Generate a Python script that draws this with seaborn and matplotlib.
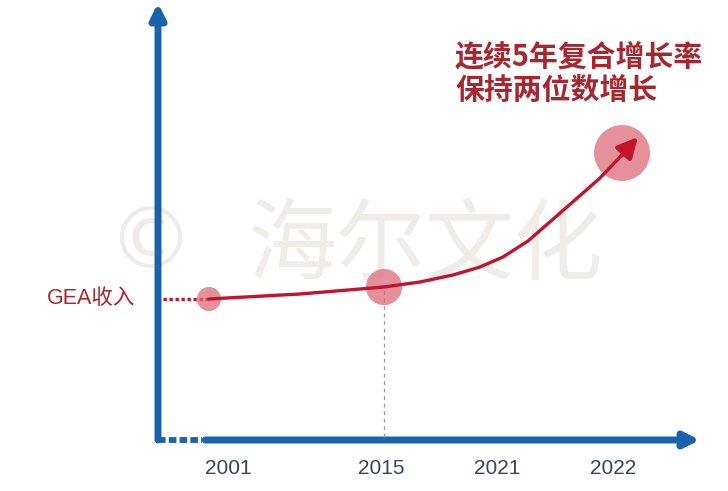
import matplotlib
matplotlib.use("Agg")
import matplotlib.pyplot as plt
import seaborn as sns
import pandas as pd

sns.set_style("white")
plt.rcParams['font.family'] = ['Noto Sans CJK SC', 'DejaVu Sans']
LATIN = ['Liberation Sans', 'Noto Sans CJK SC']

# ---- data (arbitrary revenue index) ----
years = ["2001", "2015", "2021", "2022"]
tick_pos = [0.70, 2.23, 3.39, 4.55]          # tick label positions on time axis
point_years = ["2001", "2015", "2022"]
point_x = [0.51, 2.26, 4.64]
point_val = [1.41, 1.53, 2.87]
point_size = [300, 680, 1620]
curve_x = [0.51, 1.42, 2.26, 2.62, 2.95, 3.22, 3.45, 3.70, 4.09, 4.42, 4.64]
curve_val = [1.41, 1.46, 1.53, 1.58, 1.65, 1.73, 1.83, 1.99, 2.33, 2.62, 2.85]
arrow_tip = (4.80, 3.03)
series_label = "GEA收入"
headline = ["连续5年复合增长率", "保持两位数增长"]

BLUE = "#1b62ad"
RED = "#c4142b"
PINK = "#dc6673"
TEXT_RED = "#a8262e"

W, H = 728, 491
fig = plt.figure(figsize=(W / 100, H / 100), dpi=100)
x0, y0, x1, y1 = 158, 440, 700, 3
ax = fig.add_axes([x0 / W, (H - y0) / H, (x1 - x0) / W, (y0 - y1) / H])
ax.set_xlim(0, (x1 - x0) / 100)
ax.set_ylim(0, (y0 - y1) / 100)
ax.patch.set_alpha(0)
for s in ax.spines.values():
    s.set_visible(False)

# watermark (behind everything)
ax.text(150 / W, 1 - 245 / H, "©", fontsize=62, color="#efece8", ha="center", va="center",
        zorder=0.1, family=['DejaVu Sans'], transform=fig.transFigure)
ax.text(425 / W, 1 - 248 / H, "海尔文化", fontsize=64, color="#f0ede9", ha="center", va="center",
        zorder=0.1, transform=fig.transFigure)

# axes arrows
ax.annotate("", xy=(0, 1), xytext=(0, 0), xycoords="axes fraction",
            arrowprops=dict(arrowstyle="-|>", lw=5, color=BLUE, mutation_scale=22,
                            shrinkA=0, shrinkB=0), annotation_clip=False, zorder=2)
ax.annotate("", xy=(1, 0), xytext=(0.087, 0), xycoords="axes fraction",
            arrowprops=dict(arrowstyle="-|>", lw=5, color=BLUE, mutation_scale=22,
                            shrinkA=0, shrinkB=0), annotation_clip=False, zorder=2)
ax.plot([0, 0.44], [0, 0], color=BLUE, lw=4.2, ls=(0, (1.3, 0.55)), solid_capstyle="butt",
        clip_on=False, zorder=2)

# dotted lead-in and dashed drop line
ax.plot([0.05, curve_x[0]], [point_val[0], point_val[0]], color=RED, lw=2.4,
        ls=(0, (1, 0.8)), clip_on=False, zorder=2)
ax.plot([point_x[1], point_x[1]], [0.03, point_val[1]], color="#9a9a9a", lw=0.9,
        ls=(0, (3, 3)), zorder=2)

# circles
df_pts = pd.DataFrame({"year": point_years, "x": point_x, "v": point_val, "s": point_size})
sns.scatterplot(data=df_pts, x="x", y="v", size="s", sizes=(min(point_size), max(point_size)),
                color=PINK, alpha=0.72, edgecolor="none", legend=False, ax=ax, zorder=3)

# curve
df_c = pd.DataFrame({"x": curve_x, "v": curve_val})
sns.lineplot(data=df_c, x="x", y="v", sort=False, color=RED, lw=2.4, ax=ax, zorder=4)
ax.annotate("", xy=arrow_tip, xytext=(curve_x[-1], curve_val[-1]),
            arrowprops=dict(arrowstyle="-|>", lw=3.2, color=RED, mutation_scale=30,
                            shrinkA=0, shrinkB=0), zorder=5)

# ticks
ax.set_xticks(tick_pos)
ax.set_xticklabels(years, fontsize=15, color="#34465a", family=LATIN)
ax.tick_params(axis="x", length=0, pad=14)
ax.set_yticks([])
ax.set_xlabel("")
ax.set_ylabel("")

# labels
ax.text(-0.23, point_val[0], series_label, fontsize=15.5, color=TEXT_RED, ha="right",
        va="center", family=LATIN)
fig.text(455 / W, 1 - 57 / H, headline[0], fontsize=20.8, fontweight="bold", color=TEXT_RED,
         ha="left", va="center")
fig.text(455 / W, 1 - 90 / H, headline[1], fontsize=20.8, fontweight="bold", color=TEXT_RED,
         ha="left", va="center")

fig.savefig("out.png", dpi=100)
